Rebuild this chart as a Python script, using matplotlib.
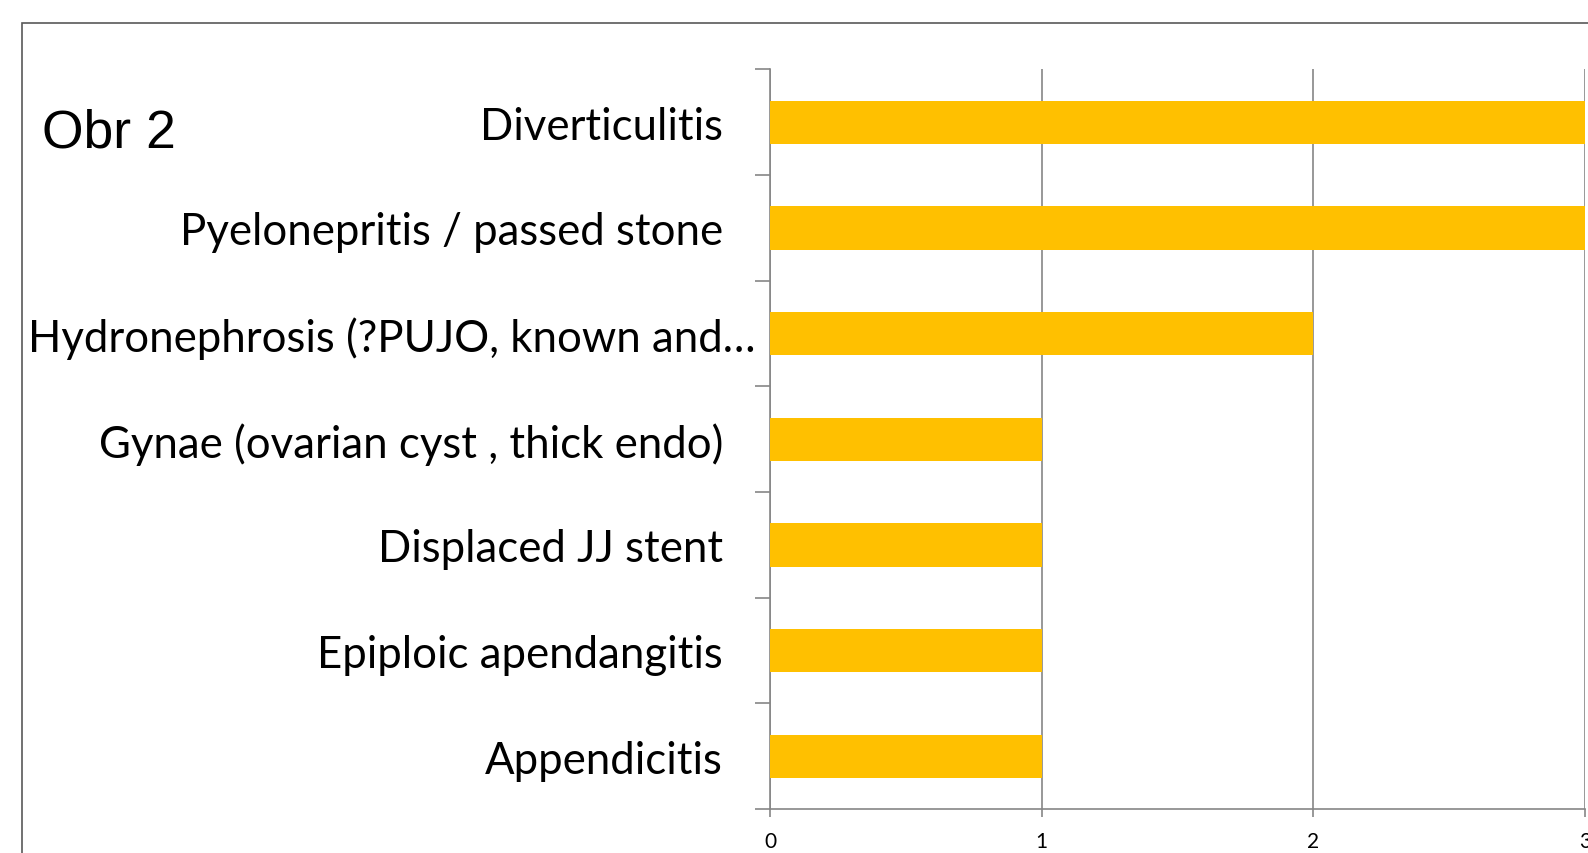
import matplotlib.pyplot as plt
from matplotlib.patches import Rectangle
from matplotlib.transforms import ScaledTranslation

# data (bottom to top)
categories = ['Appendicitis', 'Epiploic apendangitis', 'Displaced JJ stent',
              'Gynae (ovarian cyst , thick endo)', 'Hydronephrosis (?PUJO, known and…',
              'Pyelonepritis / passed stone', 'Diverticulitis']
values = [1, 1, 1, 1, 2, 3, 3]
xticks = [0, 1, 2, 3]

fig = plt.figure(figsize=(15.88, 8.54), dpi=100)
ax = fig.add_axes([0.485, 0.0515, 0.513, 0.866])

pos = list(range(len(categories)))
ax.barh(pos, values, height=0.41, color='#FFC000', zorder=3)

ax.set_xlim(0, 3)
ax.set_ylim(-0.5, len(categories) - 0.5)
ax.set_xticks(xticks)
ax.set_xticklabels([str(t) for t in xticks], fontsize=15, family='Lato')
ax.set_yticks(pos)
ax.set_yticklabels(categories, fontsize=31.5, family='Lato')
ax.set_yticks([p - 0.5 for p in pos] + [len(categories) - 0.5], minor=True)

ax.tick_params(axis='y', which='major', length=0, pad=34)
ax.tick_params(axis='y', which='minor', length=11, color='#868686', width=1.2)
ax.tick_params(axis='x', length=6, color='#868686', width=1.2, pad=10)

# truncated label sits further right, as in the original
lab = ax.get_yticklabels()[4]
lab.set_transform(lab.get_transform() + ScaledTranslation(0.33, 0, fig.dpi_scale_trans))

ax.grid(axis='x', color='#868686', linewidth=1.2, zorder=0)
for s in ['top', 'right']:
    ax.spines[s].set_visible(False)
for s in ['left', 'bottom']:
    ax.spines[s].set_color('#868686')
    ax.spines[s].set_linewidth(1.2)
ax.spines['bottom'].set_bounds(0, 3)

# outer chart border
fig.patches.append(Rectangle((22 / 1588, -0.1), 1.1, 1 - 24 / 854 + 0.1,
                             transform=fig.transFigure, fill=False,
                             edgecolor='#595959', linewidth=1.2))

fig.text(42 / 1588, 1 - 133 / 854, 'Obr 2', fontsize=38.5, family='Liberation Sans',
         va='center', ha='left')

fig.savefig('out.png', dpi=100)
